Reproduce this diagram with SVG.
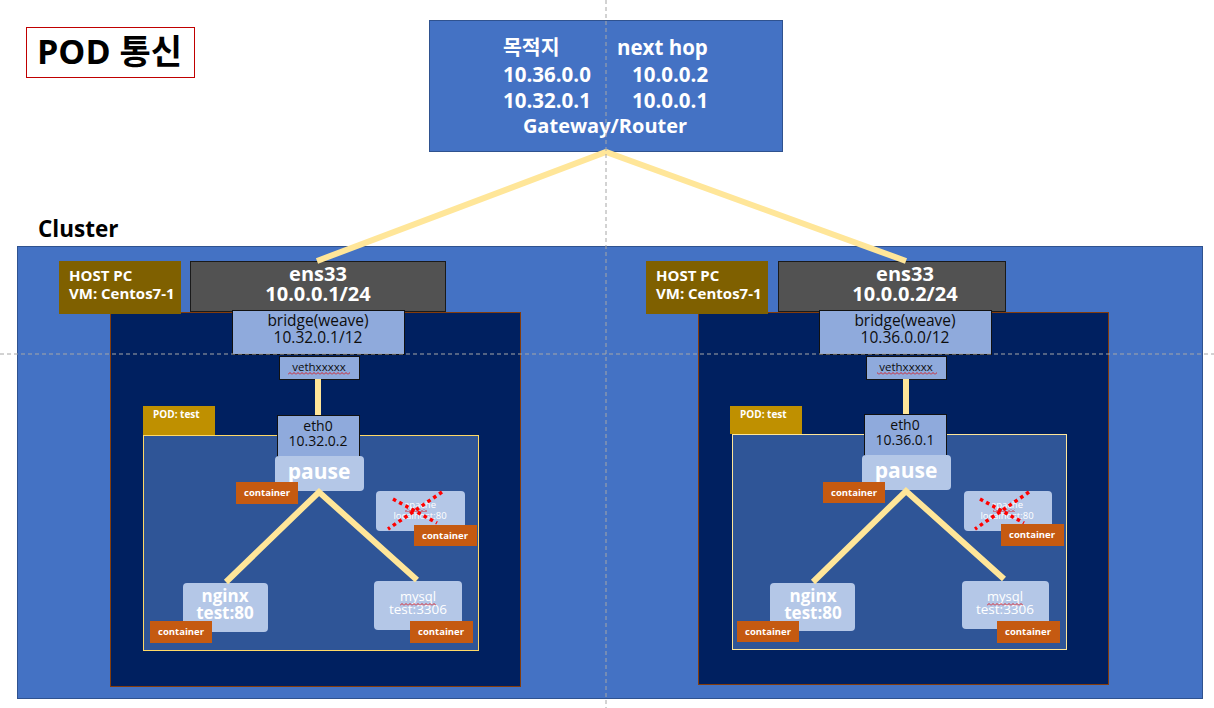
<svg xmlns="http://www.w3.org/2000/svg" width="1214" height="708" viewBox="0 0 1214 708">
<style>
text{font-family:"Open Sans","Noto Sans CJK KR",sans-serif}
.wb{fill:#fff;font-weight:bold}
.wn{fill:#fff}
.dk{fill:#0d0d0d}
.mid{text-anchor:middle}
.host{fill:#7F6000}
.ens{fill:#525252;stroke:#1a1a1a;stroke-width:1}
.node{fill:#002060;stroke:#843C0C;stroke-width:1}
.br{fill:#8FAADC;stroke:#111;stroke-width:1}
.pod{fill:#2F5597;stroke:#FFD966;stroke-width:1}
.podl{fill:#BF9000}
.ctr{fill:#B4C7E7}
.cl{fill:#C55A11}
.cont{fill:#fff;font-weight:bold;font-size:9.5px;text-anchor:middle}
.link{stroke:#FFE699;stroke-width:6;fill:none}
.guide{stroke:#A6A6A6;stroke-width:1;stroke-dasharray:4 3;fill:none}
.x{stroke:#FF0000;stroke-width:3.5;stroke-dasharray:3.5 3.5;fill:none}
</style>
<defs>
<pattern id="squig" width="4" height="3" patternUnits="userSpaceOnUse">
<path d="M0,2.5 L2,0.5 L4,2.5" stroke="#E00000" stroke-width="0.8" fill="none"/>
</pattern>
</defs>
<rect width="1214" height="708" fill="#fff"/>

<g id="title">
<rect x="26.5" y="27.5" width="168" height="50" fill="#fff" stroke="#C00000" stroke-width="1"/>
<text x="37" y="64" font-size="34" font-weight="bold" fill="#000">POD 통신</text>
</g>

<g id="router">
<rect x="429.5" y="20.5" width="353" height="131" fill="#4472C4" stroke="#2F528F" stroke-width="1"/>
<text class="wb" font-size="20.5" x="503" y="55">목적지</text>
<text class="wb" font-size="20.5" x="617" y="55">next hop</text>
<text class="wb" font-size="20.5" x="503" y="82">10.36.0.0</text>
<text class="wb" font-size="20.5" x="632" y="82">10.0.0.2</text>
<text class="wb" font-size="20.5" x="503" y="108">10.32.0.1</text>
<text class="wb" font-size="20.5" x="632" y="108">10.0.0.1</text>
<text class="wb mid" font-size="20" x="605" y="133">Gateway/Router</text>
</g>

<g id="cluster">
<text x="38" y="237" font-size="22.5" font-weight="bold" fill="#000">Cluster</text>
<rect x="17.5" y="246.5" width="1185" height="452" fill="#4472C4" stroke="#2F528F" stroke-width="1"/>
</g>

<g id="host1">
<rect class="node" x="110.5" y="312.5" width="410" height="374"/>
<rect class="host" x="59" y="261" width="122" height="53"/>
<text class="wb" font-size="15" x="69" y="281">HOST PC</text>
<text class="wb" font-size="15" x="69" y="299">VM: Centos7-1</text>
<rect class="ens" x="190.5" y="261.5" width="255" height="50"/>
<text class="wb mid" font-size="20" x="318" y="281">ens33</text>
<text class="wb mid" font-size="20" x="318" y="301">10.0.0.1/24</text>
<rect class="br" x="232.5" y="310.5" width="172" height="44"/>
<text class="dk mid" font-size="15.5" x="318" y="326">bridge(weave)</text>
<text class="dk mid" font-size="15.5" x="318" y="343">10.32.0.1/12</text>
<rect class="br" x="279.5" y="356.5" width="80" height="23"/>
<text class="dk mid" font-size="11.5" x="319" y="371">vethxxxxx</text>
<rect x="288" y="372" width="62" height="3" fill="url(#squig)"/>
</g>

<g id="pod1">
<rect class="podl" x="143" y="406" width="72" height="29"/>
<text class="wb" font-size="10" x="153" y="418">POD: test</text>
<rect class="pod" x="143.5" y="435.5" width="335" height="215"/>
</g>

<g id="eth0-1">
<rect class="br" x="277.5" y="415.5" width="82" height="41"/>
<text class="dk mid" font-size="14" x="318" y="431">eth0</text>
<text class="dk mid" font-size="14" x="318" y="446">10.32.0.2</text>
</g>

<g id="pause1">
<rect class="ctr" x="275" y="456" width="89" height="35" rx="4"/>
<text class="wb mid" font-size="21" x="319" y="479">pause</text>
<rect class="cl" x="236" y="482" width="62" height="22"/>
<text class="cont" x="267" y="496">container</text>
</g>

<g id="apache1">
<rect class="ctr" x="376" y="491" width="89" height="40" rx="4"/>
<text class="wn mid" font-size="9.5" x="420" y="508">apache</text>
<text class="wn mid" font-size="9.5" x="420" y="519">localhost:80</text>
<rect x="405" y="509" width="22" height="3" fill="url(#squig)"/>
<path class="x" d="M393,499 L437,523 M442,492 L388,529"/>
<rect class="cl" x="414" y="525" width="63" height="21"/>
<text class="cont" x="445" y="539">container</text>
</g>

<g id="nginx1">
<rect class="ctr" x="183" y="583" width="85" height="49" rx="4"/>
<text class="wb mid" font-size="17" x="225" y="602">nginx</text>
<text class="wb mid" font-size="17" x="225" y="619">test:80</text>
<rect class="cl" x="150" y="621" width="62" height="22"/>
<text class="cont" x="181" y="635">container</text>
</g>

<g id="mysql1">
<rect class="ctr" x="374" y="581" width="88" height="49" rx="4"/>
<text class="wn mid" font-size="13" x="418" y="601">mysql</text>
<text class="wn mid" font-size="13.5" x="418" y="614">test:3306</text>
<rect x="400" y="603" width="36" height="3" fill="url(#squig)"/>
<rect class="cl" x="410" y="621" width="63" height="22"/>
<text class="cont" x="441" y="635">container</text>
</g>

<g id="host2" transform="translate(587,0)">
<rect class="node" x="111.5" y="312.5" width="410" height="372"/>
<rect class="host" x="59" y="261" width="122" height="53"/>
<text class="wb" font-size="15" x="69" y="281">HOST PC</text>
<text class="wb" font-size="15" x="69" y="299">VM: Centos7-1</text>
<rect class="ens" x="191.5" y="261.5" width="227" height="50"/>
<text class="wb mid" font-size="20" x="318" y="281">ens33</text>
<text class="wb mid" font-size="20" x="318" y="301">10.0.0.2/24</text>
<rect class="br" x="232.5" y="310.5" width="172" height="44"/>
<text class="dk mid" font-size="15.5" x="318" y="326">bridge(weave)</text>
<text class="dk mid" font-size="15.5" x="318" y="343">10.36.0.0/12</text>
<rect class="br" x="279.5" y="356.5" width="80" height="23"/>
<text class="dk mid" font-size="11.5" x="319" y="371">vethxxxxx</text>
<rect x="290" y="372" width="60" height="3" fill="url(#squig)"/>
</g>

<g id="pod2" transform="translate(587,0)">
<rect class="podl" x="143" y="406" width="72" height="28"/>
<text class="wb" font-size="10" x="153" y="418">POD: test</text>
<rect class="pod" x="145.5" y="434.5" width="334" height="215" style="stroke:#FFE699"/>
</g>

<g id="eth0-2" transform="translate(587,0)">
<rect class="br" x="277.5" y="414.5" width="82" height="41"/>
<text class="dk mid" font-size="14" x="318" y="430">eth0</text>
<text class="dk mid" font-size="14" x="318" y="445">10.36.0.1</text>
</g>

<g id="pause2" transform="translate(587,0)">
<rect class="ctr" x="275" y="455" width="89" height="35" rx="4"/>
<text class="wb mid" font-size="21" x="319" y="478">pause</text>
<rect class="cl" x="236" y="482" width="62" height="21"/>
<text class="cont" x="267" y="496">container</text>
</g>

<g id="apache2" transform="translate(587,0)">
<rect class="ctr" x="377" y="491" width="88" height="40" rx="4"/>
<text class="wn mid" font-size="9.5" x="420" y="508">apache</text>
<text class="wn mid" font-size="9.5" x="420" y="519">localhost:80</text>
<rect x="406" y="509" width="22" height="3" fill="url(#squig)"/>
<path class="x" d="M393,499 L437,523 M442,492 L388,529"/>
<rect class="cl" x="414" y="524" width="63" height="22"/>
<text class="cont" x="445" y="538">container</text>
</g>

<g id="nginx2" transform="translate(587,0)">
<rect class="ctr" x="183" y="583" width="85" height="48" rx="4"/>
<text class="wb mid" font-size="17" x="226" y="602">nginx</text>
<text class="wb mid" font-size="17" x="226" y="619">test:80</text>
<rect class="cl" x="150" y="621" width="62" height="21"/>
<text class="cont" x="181" y="635">container</text>
</g>

<g id="mysql2" transform="translate(587,0)">
<rect class="ctr" x="375" y="581" width="87" height="48" rx="4"/>
<text class="wn mid" font-size="13" x="418" y="601">mysql</text>
<text class="wn mid" font-size="13.5" x="418" y="614">test:3306</text>
<rect x="400" y="603" width="36" height="3" fill="url(#squig)"/>
<rect class="cl" x="410" y="621" width="63" height="22"/>
<text class="cont" x="441" y="635">container</text>
</g>

<g id="connectors">
<path class="link" d="M317,261 L606,152 L906,261"/>
<path class="link" d="M318,379 L318,415"/>
<path class="link" d="M906,379 L906,414"/>
<path class="link" d="M226,582 L319,492 L417,580"/>
<path class="link" d="M813,582 L906,491 L1004,579"/>
</g>

<g id="guides">
<path class="guide" d="M606,0 L606,708"/>
<path class="guide" d="M0,354 L1214,354"/>
</g>
</svg>
